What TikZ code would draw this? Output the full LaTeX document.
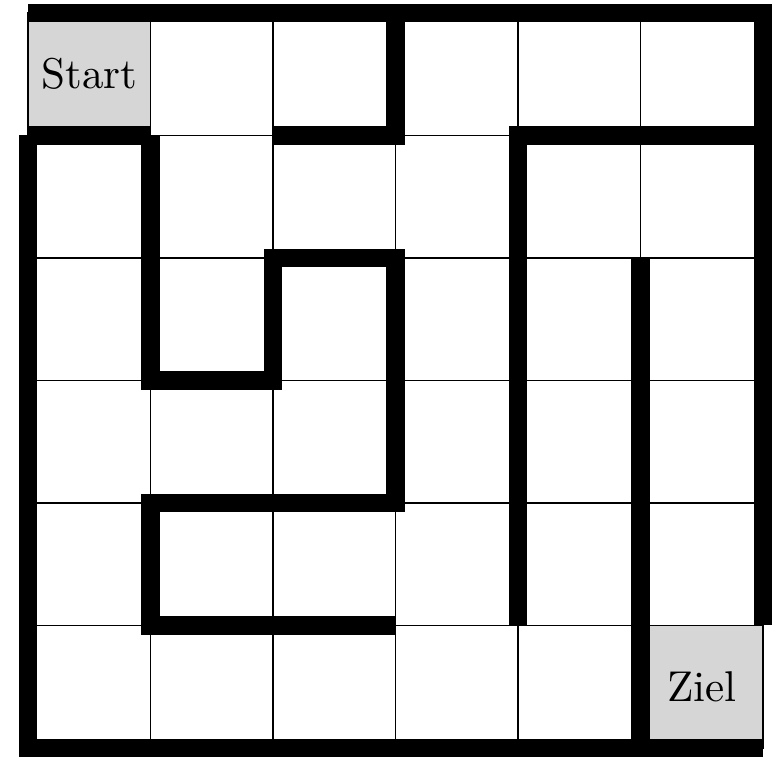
\documentclass[tikz,border=0pt]{standalone}
\begin{document}
\begin{tikzpicture}[x=1cm,y=1cm,
  gridline/.style={line width=0.3pt,black},
  wall/.style={line width=0.15cm,black,line cap=butt,line join=miter},
  cellfill/.style={fill=black!16,draw=black,line width=0.3pt},
  label/.style={font=\normalsize,inner sep=0pt}]
\useasboundingbox (-0.2286,-0.0735) rectangle (6.1551,6.1061);
% special cells
\fill[cellfill] (0,5) rectangle (1,6);
\fill[cellfill] (5,0) rectangle (6,1);
\draw[cellfill] (0,5) rectangle (1,6);
\draw[cellfill] (5,0) rectangle (6,1);
% grid
\draw[gridline] (0,0) grid (6,6);
% walls
\draw[wall] (0,6) -- (6,6) -- (6,1);
\draw[wall] (0,5) -- (0,0) -- (6,0);
\draw[wall] (0,5) -- (1,5);
\draw[wall] (2,5) -- (3,5) -- (3,6);
\draw[wall] (1,5) -- (1,3) -- (2,3) -- (2,4) -- (3,4) -- (3,2) -- (1,2) -- (1,1) -- (3,1);
\draw[wall] (6,5) -- (4,5) -- (4,1);
\draw[wall] (5,4) -- (5,0);
% labels
\node[label] (start) at (0.5,5.5) {Start};
\node[label] (ziel) at (5.5,0.5) {Ziel};
\end{tikzpicture}
\end{document}
